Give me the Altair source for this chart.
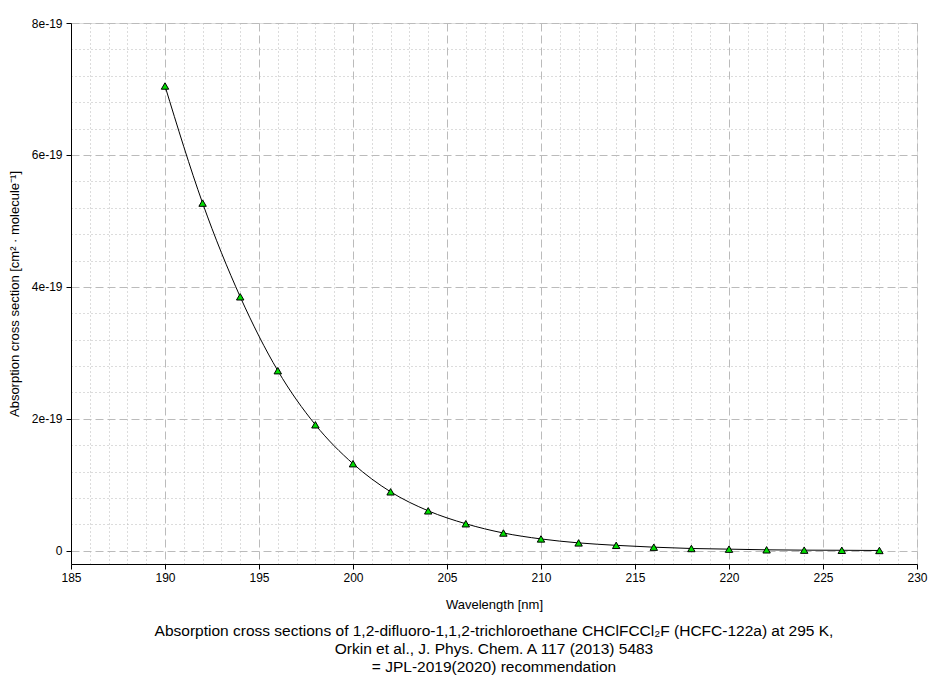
import altair as alt
import pandas as pd

wavelength = [190, 192, 194, 196, 198, 200, 202, 204, 206, 208, 210,
              212, 214, 216, 218, 220, 222, 224, 226, 228]
cross_section = [7.045e-19, 5.27e-19, 3.85e-19, 2.73e-19, 1.91e-19, 1.32e-19,
                 0.894e-19, 0.606e-19, 0.41e-19, 0.27e-19, 0.18e-19, 0.12e-19,
                 0.083e-19, 0.055e-19, 0.035e-19, 0.025e-19, 0.015e-19,
                 0.01e-19, 0.008e-19, 0.005e-19]

x_grid = list(range(185, 231))
y_grid = [i * 0.4e-19 for i in range(0, 21)]

title_lines = [
    "Absorption cross sections of 1,2-difluoro-1,1,2-trichloroethane CHClFCCl\u2082F (HCFC-122a) at 295 K,",
    "Orkin et al., J. Phys. Chem. A 117 (2013) 5483",
    "= JPL-2019(2020) recommendation",
]

df = pd.DataFrame({"wl": wavelength, "cs": cross_section})

FONT = "Liberation Sans"

x_test = "datum.value % 5 == 0"
x_enc = alt.X(
    "wl:Q",
    scale=alt.Scale(domain=[185, 230], nice=False, zero=False),
    axis=alt.Axis(
        title="Wavelength [nm]",
        values=x_grid,
        tickCount=500,
        format="d",
        labelOverlap=False,
        labelExpr="(" + x_test + ") ? datum.label : ''",
        tickOpacity={"condition": {"test": x_test, "value": 1}, "value": 0},
        gridDash={"condition": {"test": x_test, "value": [8, 4]}, "value": [1, 3]},
        gridColor={"condition": {"test": x_test, "value": "#bbbbbb"}, "value": "#b8b8b8"},
        gridWidth=1,
        grid=True,
        domainColor="black",
        tickColor="black",
        tickSize=5,
        labelFont=FONT,
        labelFontSize=12,
        labelColor="black",
        labelPadding=3,
        titleFont=FONT,
        titleFontSize=13,
        titleFontWeight="normal",
        titleColor="black",
        titlePadding=15,
        labelFlush=False,
    ),
)

y_test = "abs(round(datum.value * 1e20) % 20) == 0"
y_enc = alt.Y(
    "cs:Q",
    scale=alt.Scale(domain=[-0.2e-19, 8e-19], nice=False, zero=False),
    axis=alt.Axis(
        title="Absorption cross section [cm\u00b2 \u00b7 molecule\u207b\u00b9]",
        values=y_grid,
        tickCount=500,
        labelOverlap=False,
        labelExpr="datum.value == 0 ? '0' : ((" + y_test + ") ? round(datum.value * 1e19) + 'e-19' : '')",
        tickOpacity={"condition": {"test": y_test, "value": 1}, "value": 0},
        gridDash={"condition": {"test": y_test, "value": [8, 4]}, "value": [1, 3]},
        gridColor={"condition": {"test": y_test, "value": "#bbbbbb"}, "value": "#b8b8b8"},
        gridWidth=1,
        grid=True,
        domainColor="black",
        tickColor="black",
        tickSize=5,
        labelFont=FONT,
        labelFontSize=12,
        labelColor="black",
        labelPadding=4,
        titleFont=FONT,
        titleFontSize=13,
        titleFontWeight="normal",
        titleColor="black",
        titlePadding=10,
    ),
)

line = alt.Chart(df).mark_line(color="black", strokeWidth=1, interpolate="monotone").encode(
    x=x_enc, y=y_enc
)
points = alt.Chart(df).mark_point(
    shape="triangle-up", filled=True, fill="#00dd00", stroke="black",
    strokeWidth=1, size=55, opacity=1
).encode(x="wl:Q", y="cs:Q")

chart = alt.layer(line, points).properties(
    width=846,
    height=541,
    autosize=alt.AutoSizeParams(type="none"),
    padding={"left": 63, "top": 15, "right": 15, "bottom": 113},
    title=alt.TitleParams(
        text=title_lines,
        orient="bottom",
        font=FONT,
        fontSize=15.5,
        fontWeight="normal",
        color="black",
        lineHeight=18,
        offset=13,
        anchor="middle",
    ),
).configure_view(stroke="black", strokeWidth=1).configure(background="white")

chart.save("out.html", embed_options={"renderer": "svg", "actions": False})
